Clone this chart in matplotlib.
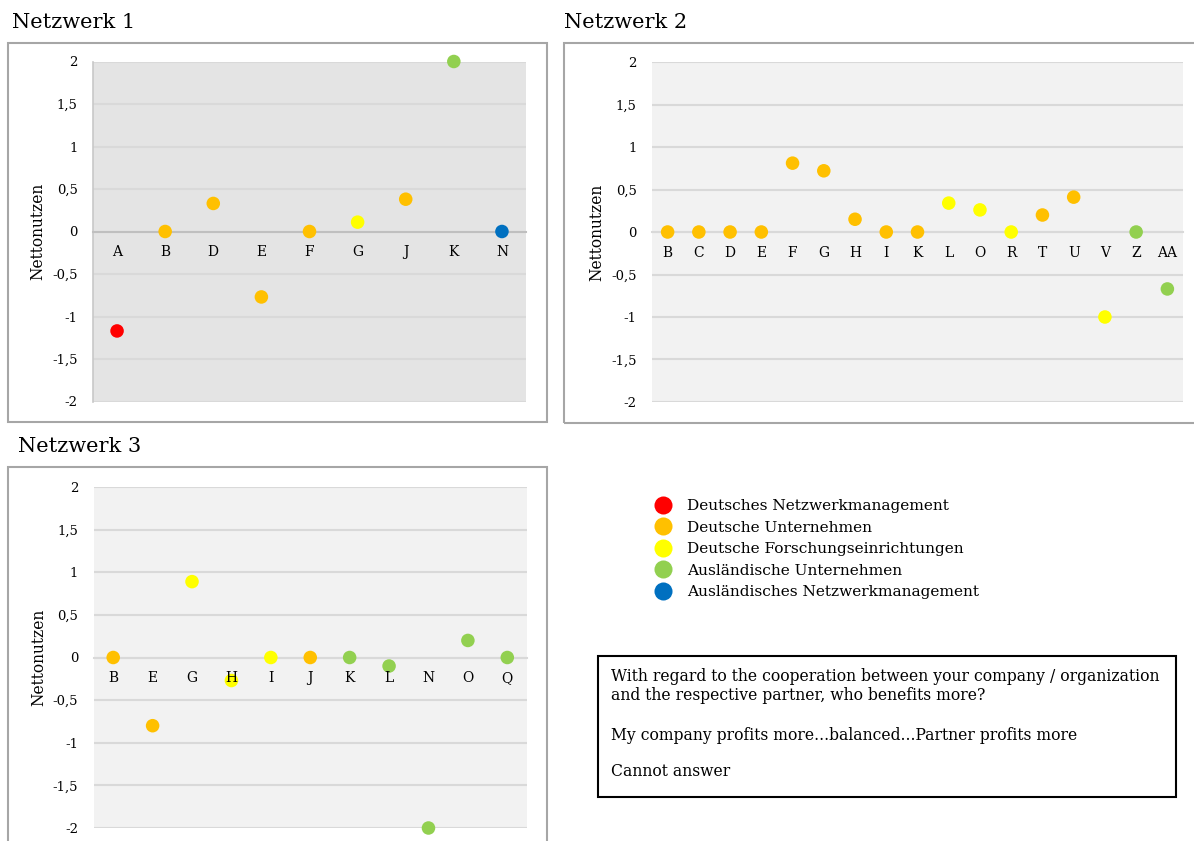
import numpy as np
import matplotlib
matplotlib.use('Agg')
import matplotlib.pyplot as plt
from matplotlib.patches import Rectangle
from matplotlib.lines import Line2D

plt.rcParams['font.family'] = ['DejaVu Serif']

# groups: 0 DE Netzwerkmanagement, 1 DE Unternehmen, 2 DE Forschung, 3 Ausl. Unternehmen, 4 Ausl. Netzwerkmanagement
group_names = ['Deutsches Netzwerkmanagement', 'Deutsche Unternehmen',
               'Deutsche Forschungseinrichtungen', 'Ausländische Unternehmen',
               'Ausländisches Netzwerkmanagement']
group_colors = ['#ff0000', '#ffc000', '#ffff00', '#92d050', '#0070c0']

n1_cats = ['A', 'B', 'D', 'E', 'F', 'G', 'J', 'K', 'N']
n1_vals = [-1.17, 0, 0.33, -0.77, 0, 0.11, 0.38, 2, 0]
n1_grp = [0, 1, 1, 1, 1, 2, 1, 3, 4]

n2_cats = ['B', 'C', 'D', 'E', 'F', 'G', 'H', 'I', 'K', 'L', 'O', 'R', 'T', 'U', 'V', 'Z', 'AA']
n2_vals = [0, 0, 0, 0, 0.81, 0.72, 0.15, 0, 0, 0.34, 0.26, 0, 0.2, 0.41, -1.0, 0, -0.67]
n2_grp = [1, 1, 1, 1, 1, 1, 1, 1, 1, 2, 2, 2, 1, 1, 2, 3, 3]

n3_cats = ['B', 'E', 'G', 'H', 'I', 'J', 'K', 'L', 'N', 'O', 'Q']
n3_vals = [0, -0.8, 0.89, -0.27, 0, 0, 0, -0.1, -2, 0.2, 0]
n3_grp = [1, 1, 2, 2, 2, 1, 3, 3, 3, 3, 3]

yticks = [-2, -1.5, -1, -0.5, 0, 0.5, 1, 1.5, 2]
ytick_labels = ['-2', '-1,5', '-1', '-0,5', '0', '0,5', '1', '1,5', '2']

W, H = 1194, 841
fig = plt.figure(figsize=(W/100, H/100), dpi=100)


def box(x0, y0, x1, y1):
    return [x0/W, 1 - y1/H, (x1 - x0)/W, (y1 - y0)/H]


def panel(title, cats, vals, grp, area, frame, title_xy, bg, zero_col, left_line):
    # frame around the chart
    fx0, fy0, fx1, fy1 = frame
    fig.patches.append(Rectangle((fx0/W, 1 - fy1/H), (fx1 - fx0)/W, (fy1 - fy0)/H,
                                 transform=fig.transFigure, fill=False,
                                 edgecolor='#a6a6a6', lw=1.5, zorder=0))
    fig.text(title_xy[0]/W, 1 - title_xy[1]/H, title, fontsize=15,
             ha='left', va='center')
    ax = fig.add_axes(box(*area))
    ax.set_facecolor(bg)
    x = np.arange(len(cats))
    cols = [group_colors[g] for g in grp]
    ax.scatter(x, vals, s=95, c=cols, zorder=3, clip_on=False, linewidths=0)
    ax.set_xlim(-0.5, len(cats) - 0.5)
    ax.set_ylim(-2, 2)
    ax.set_yticks(yticks)
    ax.set_yticklabels(ytick_labels, fontsize=9.5)
    ax.set_xticks(x)
    ax.set_xticklabels(cats, fontsize=10.5)
    ax.set_axisbelow(True)
    ax.xaxis.set_zorder(4)
    ax.yaxis.grid(True, color='#d9d9d9', lw=1.5)
    ax.spines['bottom'].set_position(('data', 0))
    ax.spines['bottom'].set_color(zero_col)
    ax.spines['bottom'].set_linewidth(1.5)
    for s in ['top', 'right']:
        ax.spines[s].set_visible(False)
    if left_line:
        ax.spines['left'].set_color('#c8c8c8')
        ax.spines['left'].set_linewidth(1.2)
    else:
        ax.spines['left'].set_visible(False)
    ax.tick_params(axis='x', length=0, pad=10)
    ax.tick_params(axis='y', length=0, pad=11)
    ax.set_ylabel('Nettonutzen', fontsize=11.2, labelpad=4)
    return ax


panel('Netzwerk 1', n1_cats, n1_vals, n1_grp, (93, 61.5, 526, 401.5),
      (8, 43, 547, 422), (12, 22), '#e4e4e4', '#bfbfbf', True)
panel('Netzwerk 2', n2_cats, n2_vals, n2_grp, (652, 62, 1183, 402),
      (564, 43, 1210, 423), (564, 22), '#f2f2f2', '#d9d9d9', False)
panel('Netzwerk 3', n3_cats, n3_vals, n3_grp, (93.5, 487, 527, 828),
      (8, 467, 547, 870), (18, 447), '#f2f2f2', '#d9d9d9', False)

# legend
handles = [Line2D([], [], marker='o', ls='', markersize=13, markerfacecolor=c,
                  markeredgewidth=0, label=n)
           for c, n in zip(group_colors, group_names)]
fig.legend(handles=handles, loc='upper left', bbox_to_anchor=(655/W, 1 - 499/H),
           frameon=False, fontsize=11.1, handlelength=1.0, handletextpad=1.1,
           labelspacing=0.49, borderpad=0, borderaxespad=0)

# question box
fig.patches.append(Rectangle((598/W, 1 - 797/H), (1176 - 598)/W, (797 - 656)/H,
                             transform=fig.transFigure, fill=False,
                             edgecolor='black', lw=1.5))
fig.text(611/W, 1 - 686/H,
         'With regard to the cooperation between your company / organization\n'
         'and the respective partner, who benefits more?',
         fontsize=11.25, ha='left', va='center', linespacing=1.15)
fig.text(611/W, 1 - 735/H, 'My company profits more...balanced...Partner profits more',
         fontsize=11.25, ha='left', va='center')
fig.text(611/W, 1 - 772/H, 'Cannot answer', fontsize=11.25, ha='left', va='center')

fig.savefig('out.png', dpi=100)
